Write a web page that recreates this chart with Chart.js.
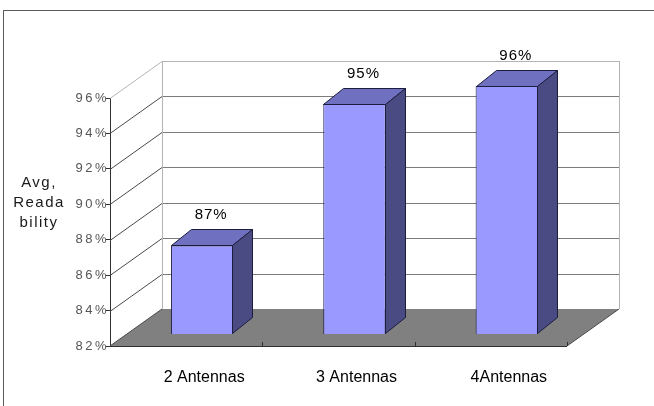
<!DOCTYPE html>
<html>
<head>
<meta charset="utf-8">
<script src="https://cdn.jsdelivr.net/npm/chart.js@4/dist/chart.umd.min.js"></script>
<style>
  html, body { margin: 0; padding: 0; background: #fff; overflow: hidden; }
  #frame { position: absolute; left: 3px; top: 10px; width: 720px; height: 520px; border: 1px solid #5a5a5a; }
  #c { position: absolute; left: 0; top: 0; }
</style>
</head>
<body>
<div id="frame"></div>
<canvas id="c" width="654" height="406"></canvas>
<script>
// Average readability per antenna configuration
const categories = ['2 Antennas', '3 Antennas', '4Antennas'];
const readability = [87, 95, 96];
const yMin = 82, yMax = 96, yStep = 2;
const axisTitle = ['Avg,', 'Reada', 'bility'];

// Oblique "3-D box" geometry (pixels)
const WALL = { dx: 52, dy: -37 };       // depth of floor and back wall
const BAR_FRONT = { dx: 16, dy: -12 };  // how far bar fronts sit inside the box
const BAR_DEPTH = { dx: 20, dy: -16 };  // depth of each bar

const COLORS = {
  floor: '#808080',
  wallEdge: '#b4b4b4',
  grid: '#7c7c7c',
  diag: '#4a4a4a',
  axis: '#303030',
  front: '#9999ff',
  top: '#7070c0',
  side: '#4b4b84',
  outline: '#1c1c3e'
};

function poly(ctx, pts, fill, stroke) {
  ctx.beginPath();
  ctx.moveTo(pts[0][0], pts[0][1]);
  for (let i = 1; i < pts.length; i++) ctx.lineTo(pts[i][0], pts[i][1]);
  ctx.closePath();
  if (fill) { ctx.fillStyle = fill; ctx.fill(); }
  if (stroke) { ctx.strokeStyle = stroke; ctx.lineWidth = 1; ctx.stroke(); }
}
function line(ctx, x1, y1, x2, y2, color) {
  ctx.beginPath();
  ctx.moveTo(x1, y1);
  ctx.lineTo(x2, y2);
  ctx.strokeStyle = color;
  ctx.lineWidth = 1;
  ctx.stroke();
}

const box3d = {
  id: 'box3d',
  beforeDraw(chart) {
    // spaced-out value-axis labels
    chart.ctx.letterSpacing = '2.5px';
  },
  beforeDatasetsDraw(chart) {
    const { ctx, chartArea: a, scales: { x, y } } = chart;
    ctx.letterSpacing = '0px';
    const L = a.left, R = a.right;
    const B = y.getPixelForValue(yMin), T = y.getPixelForValue(yMax);
    const dx = WALL.dx, dy = WALL.dy;

    ctx.save();
    // floor
    poly(ctx, [[L, B], [R, B], [R + dx, B + dy], [L + dx, B + dy]], COLORS.floor);
    line(ctx, L, B + 0.5, R, B + 0.5, COLORS.axis);
    line(ctx, L, B, L + dx, B + dy, COLORS.diag);
    line(ctx, R, B, R + dx, B + dy, COLORS.diag);

    // back wall gridlines and side diagonals
    for (let v = yMin + yStep; v <= yMax; v += yStep) {
      const yy = Math.round(y.getPixelForValue(v)) + 0.5;
      const edge = v === yMax;
      line(ctx, L + dx, yy + dy, R + dx, yy + dy, edge ? COLORS.wallEdge : COLORS.grid);
      line(ctx, L, yy, L + dx, yy + dy, edge ? COLORS.wallEdge : COLORS.diag);
    }
    line(ctx, L + dx + 0.5, T + dy, L + dx + 0.5, B + dy, COLORS.wallEdge);
    line(ctx, R + dx + 0.5, T + dy, R + dx + 0.5, B + dy, COLORS.wallEdge);

    // category dividers on the front edge of the floor
    for (let i = 0; i < categories.length; i++) {
      const bx = Math.round(i < categories.length - 1
        ? (x.getPixelForValue(i) + x.getPixelForValue(i + 1)) / 2 : R) + 0.5;
      line(ctx, bx, B - 4, bx, B, COLORS.axis);
    }
    ctx.restore();

    // bar front faces are drawn by the bar controller, pushed into the box
    ctx.save();
    ctx.translate(BAR_FRONT.dx, BAR_FRONT.dy);
  },
  afterDatasetsDraw(chart) {
    const { ctx, scales: { y } } = chart;
    ctx.restore();
    const meta = chart.getDatasetMeta(0);
    const base = y.getPixelForValue(yMin);
    ctx.save();
    meta.data.forEach((el, i) => {
      const l = Math.round(el.x - el.width / 2 + BAR_FRONT.dx) + 0.5;
      const r = Math.round(el.x + el.width / 2 + BAR_FRONT.dx) - 0.5;
      const t = Math.round(y.getPixelForValue(readability[i]) + BAR_FRONT.dy) + 0.5;
      const b = Math.round(base + BAR_FRONT.dy) - 0.5;
      const ddx = BAR_DEPTH.dx, ddy = BAR_DEPTH.dy;
      poly(ctx, [[l, t], [r, t], [r + ddx, t + ddy], [l + ddx, t + ddy]], COLORS.top, COLORS.outline);
      poly(ctx, [[r, t], [r + ddx, t + ddy], [r + ddx, b + ddy], [r, b]], COLORS.side, COLORS.outline);

      // value label above the bar
      ctx.font = '15px "Liberation Sans", Arial, sans-serif';
      ctx.fillStyle = '#000';
      ctx.textAlign = 'center';
      ctx.textBaseline = 'middle';
      ctx.letterSpacing = '1px';
      ctx.fillText(readability[i] + '%', el.x + BAR_FRONT.dx + 9, t + ddy - 15);
    });

    // value-axis title, stacked
    ctx.font = '15px "Liberation Sans", Arial, sans-serif';
    ctx.fillStyle = '#1a1a1a';
    ctx.textAlign = 'center';
    ctx.textBaseline = 'middle';
    ctx.letterSpacing = '1.5px';
    axisTitle.forEach((s, k) => ctx.fillText(s, 39, 183 + k * 20));
    ctx.letterSpacing = '0px';
    ctx.restore();
  }
};

new Chart(document.getElementById('c'), {
  type: 'bar',
  data: {
    labels: categories,
    datasets: [{
      data: readability,
      backgroundColor: COLORS.front,
      borderColor: COLORS.outline,
      borderWidth: 1,
      borderSkipped: false,
      categoryPercentage: 1,
      barPercentage: 0.41
    }]
  },
  options: {
    responsive: false,
    animation: false,
    events: [],
    layout: { padding: { left: 0, top: 98, right: 87, bottom: 0 } },
    plugins: { legend: { display: false }, tooltip: { enabled: false } },
    scales: {
      x: {
        afterFit(s) { s.height = 60; },
        grid: { display: false },
        border: { display: false },
        ticks: {
          z: 1,
          padding: 14,
          labelOffset: 18,
          maxRotation: 0,
          color: '#000000',
          font: { family: '"Liberation Sans", Arial, sans-serif', size: 16 }
        }
      },
      y: {
        min: yMin,
        max: yMax,
        afterFit(s) { s.width = 110; },
        grid: { drawOnChartArea: false, drawTicks: true, tickLength: 4, color: COLORS.axis },
        border: { display: true, color: COLORS.axis },
        ticks: {
          stepSize: yStep,
          padding: -3,
          color: '#555555',
          font: { family: '"Liberation Sans", Arial, sans-serif', size: 13 },
          callback: v => v + '%'
        }
      }
    }
  },
  plugins: [box3d]
});
</script>
</body>
</html>
